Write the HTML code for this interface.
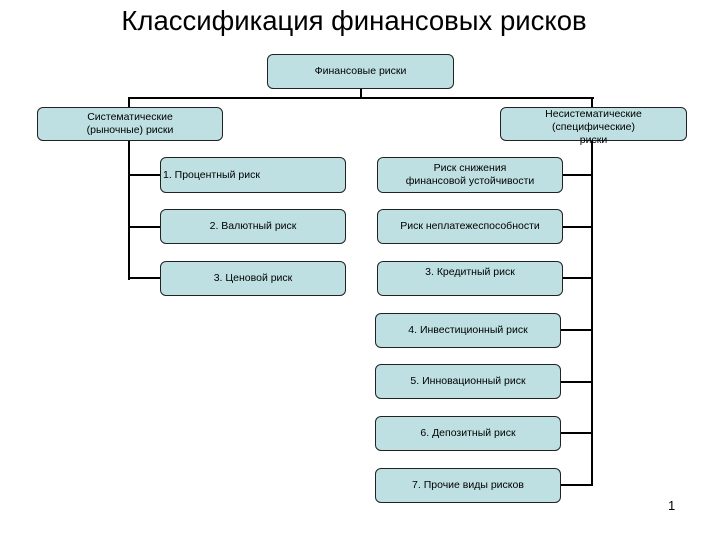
<!DOCTYPE html>
<html><head><meta charset="utf-8"><style>
body{margin:0;width:720px;height:540px;background:#fff;position:relative;overflow:hidden;font-family:"Liberation Sans",sans-serif}
.b{position:absolute;background:#bfe0e2;border:1px solid #222;border-radius:6px;box-sizing:border-box;display:flex;align-items:center;justify-content:center;text-align:center;font-size:10.5px;line-height:13px;color:#000}
.l{position:absolute;background:#000}
</style></head><body>
<div style="position:absolute;left:0;width:708px;top:5px;text-align:center;font-size:27.5px;color:#000">Классификация финансовых рисков</div>
<div class="b" style="left:267px;top:54px;width:187px;height:35px">Финансовые риски</div>
<div class="l" style="left:360px;top:89px;width:2px;height:9px"></div>
<div class="l" style="left:128px;top:97px;width:466px;height:2px"></div>
<div class="l" style="left:128px;top:97px;width:2px;height:183px"></div>
<div class="l" style="left:591px;top:97px;width:2px;height:389px"></div>
<div class="b" style="left:37px;top:107px;width:186px;height:34px">Систематические<br>(рыночные) риски</div>
<div class="b" style="left:500px;top:107px;width:187px;height:34px;align-items:flex-start;line-height:13px;padding-top:0">Несистематические<br>(специфические)<br>риски</div>
<div class="l" style="left:128px;top:174px;width:32px;height:2px"></div>
<div class="l" style="left:128px;top:226px;width:32px;height:2px"></div>
<div class="l" style="left:128px;top:277px;width:32px;height:2px"></div>
<div class="b" style="left:160px;top:157px;width:186px;height:36px;justify-content:flex-start;padding-left:2px">1. Процентный риск</div>
<div class="b" style="left:160px;top:209px;width:186px;height:35px">2. Валютный риск</div>
<div class="b" style="left:160px;top:261px;width:186px;height:35px">3. Ценовой риск</div>
<div class="l" style="left:563px;top:174px;width:30px;height:2px"></div>
<div class="l" style="left:563px;top:226px;width:30px;height:2px"></div>
<div class="l" style="left:563px;top:277px;width:30px;height:2px"></div>
<div class="l" style="left:561px;top:329px;width:32px;height:2px"></div>
<div class="l" style="left:561px;top:381px;width:32px;height:2px"></div>
<div class="l" style="left:561px;top:432px;width:32px;height:2px"></div>
<div class="l" style="left:561px;top:484px;width:32px;height:2px"></div>
<div class="b" style="left:377px;top:157px;width:186px;height:36px">Риск снижения<br>финансовой устойчивости</div>
<div class="b" style="left:377px;top:209px;width:186px;height:35px">Риск неплатежеспособности</div>
<div class="b" style="left:377px;top:261px;width:186px;height:35px;align-items:flex-start;padding-top:4px">3. Кредитный риск</div>
<div class="b" style="left:375px;top:313px;width:186px;height:35px">4. Инвестиционный риск</div>
<div class="b" style="left:375px;top:364px;width:186px;height:35px">5. Инновационный риск</div>
<div class="b" style="left:375px;top:416px;width:186px;height:35px">6. Депозитный риск</div>
<div class="b" style="left:375px;top:468px;width:186px;height:35px">7. Прочие виды рисков</div>
<div style="position:absolute;left:668px;top:498px;font-size:13px">1</div>
</body></html>
